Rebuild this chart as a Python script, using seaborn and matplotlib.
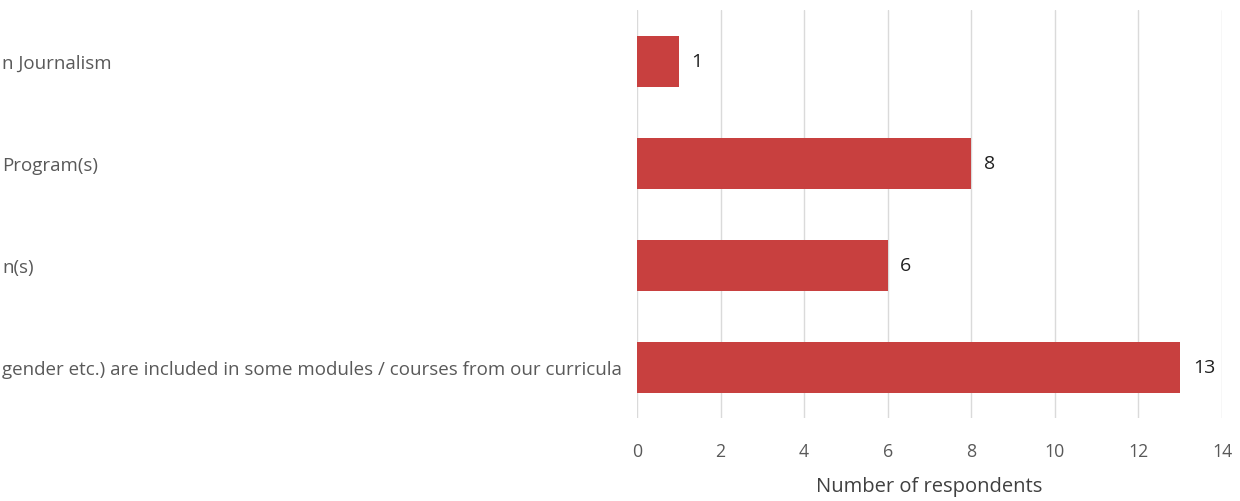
import matplotlib
matplotlib.use("Agg")
import matplotlib.pyplot as plt
import seaborn as sns
import pandas as pd

categories = [
    "n Journalism",
    "Program(s)",
    "n(s)",
    "gender etc.) are included in some modules / courses from our curricula",
]
values = [1, 8, 6, 13]
xticks = [0, 2, 4, 6, 8, 10, 12, 14]

df = pd.DataFrame({"category": categories, "respondents": values})

sns.set_theme(style="white")
plt.rcParams["font.family"] = ["Open Sans", "DejaVu Sans"]

W, H = 1240, 502
fig = plt.figure(figsize=(W / 100, H / 100), dpi=100)
ax = fig.add_axes([637 / W, 1 - 419 / H, (1222 - 637) / W, (419 - 11) / H])

sns.barplot(data=df, y="category", x="respondents", orient="h",
            color="#C8403F", saturation=1, width=0.5, ax=ax, zorder=3,
            linewidth=0)

ax.set_xlim(0, 14)
ax.set_xticks(xticks)
ax.set_xticklabels([str(t) for t in xticks], fontsize=12.8, color="#595959")
ax.grid(axis="x", color="#DADADA", linewidth=1.0, zorder=0)
ax.grid(axis="y", visible=False)
for s in ax.spines.values():
    s.set_visible(False)
ax.tick_params(axis="both", length=0)
ax.tick_params(axis="x", pad=17)
# labels are left-aligned, starting at the left edge of the figure
ax.tick_params(axis="y", pad=(637 - 2) * 72 / 100)
for lbl in ax.get_yticklabels():
    lbl.set_fontsize(13.5)
    lbl.set_color("#595959")
    lbl.set_horizontalalignment("left")

ax.set_ylabel("")
ax.set_xlabel("Number of respondents", fontsize=14.5, color="#404040", labelpad=12)

for c in ax.containers:
    ax.bar_label(c, labels=[str(v) for v in values], padding=9, fontsize=14, color="#202020")

fig.savefig("out.png", dpi=100)
